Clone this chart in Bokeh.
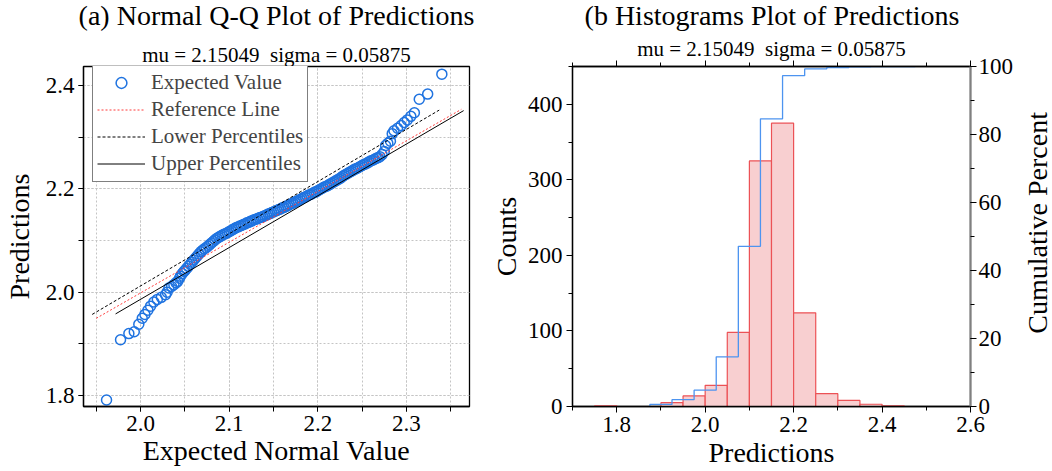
import math
from bokeh.plotting import figure
from bokeh.models import (Range1d, LinearAxis, SingleIntervalTicker, Title, Legend,
                          LegendItem, NumeralTickFormatter, CustomJSTickFormatter)
from bokeh.core.properties import value
from bokeh.layouts import row, column
from bokeh.embed import file_html
from bokeh.resources import INLINE

FONT = "Liberation Serif"

# ---------------- data: Q-Q plot ----------------
qq_tail_low_x = [1.9616, 1.9774, 1.9868, 1.9929, 1.998, 2.0019, 2.0049, 2.0083, 2.0113, 2.015,
                 2.0189, 2.0234, 2.0282, 2.030, 2.032, 2.035, 2.0376, 2.040, 2.042, 2.044,
                 2.045, 2.047, 2.049]
qq_tail_low_y = [1.7915, 1.908, 1.920, 1.9235, 1.938, 1.9495, 1.957, 1.965, 1.973, 1.981,
                 1.986, 1.990, 1.995, 2.000, 2.008, 2.011, 2.0145, 2.018, 2.021, 2.027,
                 2.031, 2.036, 2.040]
qq_mid_x = [2.050, 2.052, 2.054, 2.056, 2.058, 2.060, 2.062, 2.064, 2.066, 2.068,
            2.070, 2.072, 2.074, 2.076, 2.078, 2.080, 2.082, 2.084, 2.086, 2.088,
            2.090, 2.092, 2.094, 2.096, 2.098, 2.100, 2.102, 2.104, 2.106, 2.108,
            2.110, 2.112, 2.114, 2.116, 2.118, 2.120, 2.122, 2.124, 2.126, 2.128,
            2.130, 2.132, 2.134, 2.136, 2.138, 2.140, 2.142, 2.144, 2.146, 2.148,
            2.150, 2.152, 2.154, 2.156, 2.158, 2.160, 2.162, 2.164, 2.166, 2.168,
            2.170, 2.172, 2.174, 2.176, 2.178, 2.180, 2.182, 2.184, 2.186, 2.188,
            2.190, 2.192, 2.194, 2.196, 2.198, 2.200, 2.202, 2.204, 2.206, 2.208,
            2.210, 2.212, 2.214, 2.216, 2.218, 2.220, 2.222, 2.224, 2.226, 2.228,
            2.230, 2.232, 2.234, 2.236, 2.238, 2.240, 2.242, 2.244, 2.246, 2.248,
            2.250, 2.252, 2.254, 2.256, 2.258, 2.260, 2.262, 2.264, 2.266, 2.268, 2.270]
qq_mid_y = [2.042, 2.046, 2.050, 2.054, 2.058, 2.062, 2.066, 2.070, 2.074, 2.078,
            2.081, 2.084, 2.086, 2.089, 2.092, 2.095, 2.098, 2.101, 2.104, 2.106,
            2.108, 2.110, 2.112, 2.113, 2.115, 2.117, 2.119, 2.121, 2.123, 2.125,
            2.126, 2.128, 2.129, 2.131, 2.132, 2.134, 2.135, 2.137, 2.138, 2.140,
            2.141, 2.142, 2.144, 2.145, 2.146, 2.148, 2.149, 2.151, 2.152, 2.154,
            2.155, 2.157, 2.158, 2.160, 2.161, 2.163, 2.164, 2.166, 2.167, 2.169,
            2.171, 2.172, 2.174, 2.176, 2.177, 2.179, 2.181, 2.183, 2.184, 2.186,
            2.188, 2.189, 2.191, 2.193, 2.194, 2.196, 2.198, 2.200, 2.202, 2.204,
            2.205, 2.207, 2.209, 2.211, 2.213, 2.215, 2.217, 2.219, 2.221, 2.224,
            2.226, 2.228, 2.230, 2.232, 2.234, 2.236, 2.238, 2.239, 2.241, 2.243,
            2.245, 2.247, 2.248, 2.250, 2.252, 2.254, 2.255, 2.257, 2.259, 2.260, 2.262]
qq_tail_high_x = [2.2725, 2.275, 2.2765, 2.279, 2.282, 2.284, 2.286, 2.290, 2.294, 2.2975,
                  2.301, 2.305, 2.309, 2.3145, 2.324, 2.340]
qq_tail_high_y = [2.266, 2.272, 2.2835, 2.288, 2.292, 2.3065, 2.312, 2.317, 2.322, 2.328,
                  2.333, 2.340, 2.347, 2.373, 2.383, 2.4215]

ref_line_x = [1.950, 2.362]
ref_line_y = [1.9495, 2.3535]
lower_pct_x = [1.9454, 2.337]
lower_pct_y = [1.957, 2.352]
upper_pct_x = [1.9718, 2.3646]
upper_pct_y = [1.958, 2.351]

# ---------------- data: histogram ----------------
bin_left = [1.75, 1.80, 1.85, 1.90, 1.95, 2.00, 2.05, 2.10, 2.15, 2.20, 2.25, 2.30, 2.35, 2.40]
bin_right = [1.80, 1.85, 1.90, 1.95, 2.00, 2.05, 2.10, 2.15, 2.20, 2.25, 2.30, 2.35, 2.40, 2.45]
counts = [1, 0, 0, 5, 14, 28, 98, 325, 375, 124, 17, 8, 3, 1]
cum_x = [1.875, 1.925, 1.975, 2.025, 2.075, 2.125, 2.175, 2.225, 2.275, 2.325, 2.375, 2.425, 2.475]
cum_pct = [0.1, 0.6, 2.0, 4.8, 14.6, 47.1, 84.6, 97.3, 99.3, 99.7, 99.9, 100.0, 100.0]

subtitle = "mu = 2.15049 \u00a0sigma = 0.05875"
panel_titles = ["(a) Normal Q-Q Plot of Predictions", "(b Histograms Plot of Predictions"]
right_label = "Cumulative Percent"

qq_x = qq_tail_low_x + qq_mid_x + qq_tail_high_x
qq_y = qq_tail_low_y + qq_mid_y + qq_tail_high_y

HEAD_H = 34
BODY_H = 471 - HEAD_H
FRAME_TOP = 66


def style_axis(ax, tick_out=5, minor_out=5):
    ax.axis_line_color = "black"
    ax.axis_line_width = 1.3
    ax.major_tick_line_color = "black"
    ax.minor_tick_line_color = "black"
    ax.major_tick_in = 0
    ax.minor_tick_in = 0
    ax.major_tick_out = tick_out
    ax.minor_tick_out = minor_out
    ax.major_label_text_font = FONT
    ax.major_label_text_font_size = "23px"
    ax.major_label_text_color = "black"
    ax.axis_label_text_font = FONT
    ax.axis_label_text_font_size = "28px"
    ax.axis_label_text_font_style = "normal"
    ax.axis_label_text_color = "black"


def add_subtitle(p):
    p.add_layout(Title(text=subtitle, align="center", text_font=FONT, text_font_size="21px",
                       text_font_style="normal", text_color="black", standoff=0), "above")


def blank_figure(w, h):
    f = figure(width=w, height=h, output_backend="svg", toolbar_location=None, title=None,
               x_range=Range1d(0, w), y_range=Range1d(0, h), x_axis_type=None, y_axis_type=None,
               min_border_left=0, min_border_right=0, min_border_top=0, min_border_bottom=0)
    f.outline_line_color = None
    f.xgrid.visible = False
    f.ygrid.visible = False
    return f


# ---------------- header with the two panel titles ----------------
header = blank_figure(1052, HEAD_H)
header.text(x=[276, 771.5], y=[HEAD_H - 15, HEAD_H - 15], text=panel_titles,
            text_font=value(FONT), text_font_size=value("28px"), text_color="black",
            text_align="center", text_baseline="middle")

# ---------------- left: Q-Q plot ----------------
p1 = figure(width=480, height=BODY_H, output_backend="svg", toolbar_location=None, title=None,
            x_range=Range1d(1.9356, 2.3712), y_range=Range1d(1.779, 2.4363),
            min_border_left=83, min_border_right=11, min_border_top=FRAME_TOP - HEAD_H,
            min_border_bottom=61)
p1.outline_line_color = "black"
p1.outline_line_width = 1.3

xt1 = SingleIntervalTicker(interval=0.1, num_minor_ticks=2)
yt1 = SingleIntervalTicker(interval=0.2, num_minor_ticks=2)
p1.xaxis.ticker = xt1
p1.yaxis.ticker = yt1
p1.xgrid.ticker = xt1
p1.ygrid.ticker = yt1
p1.xaxis.formatter = NumeralTickFormatter(format="0.0")
p1.yaxis.formatter = NumeralTickFormatter(format="0.0")
for g in (p1.xgrid, p1.ygrid):
    g.grid_line_color = "#c4c4c4"
    g.grid_line_dash = "2 2"
    g.minor_grid_line_color = "#c4c4c4"
    g.minor_grid_line_dash = "2 2"
style_axis(p1.xaxis[0])
style_axis(p1.yaxis[0])
p1.xaxis.axis_label = "Expected Normal Value"
p1.yaxis.axis_label = "Predictions"
p1.xaxis.major_label_standoff = 4
p1.xaxis.axis_label_standoff = 1
p1.yaxis.major_label_standoff = 4
p1.yaxis.axis_label_standoff = 8

sc = p1.scatter(qq_x, qq_y, marker="circle", size=10, fill_color=None,
                line_color="#1f73e0", line_width=1.5)
r_ref = p1.line(ref_line_x, ref_line_y, line_color="#ff3b3b", line_dash="2 2", line_width=1)
r_low = p1.line(lower_pct_x, lower_pct_y, line_color="black", line_dash="3 2", line_width=1)
r_up = p1.line(upper_pct_x, upper_pct_y, line_color="black", line_width=1)

legend = Legend(items=[LegendItem(label="Expected Value", renderers=[sc]),
                       LegendItem(label="Reference Line", renderers=[r_ref]),
                       LegendItem(label="Lower Percentiles", renderers=[r_low]),
                       LegendItem(label="Upper Percentiles", renderers=[r_up])],
                location=(9, 224), margin=0, padding=4, spacing=0,
                glyph_width=48, glyph_height=27, label_height=27, label_standoff=6,
                label_text_font=FONT, label_text_font_size="21px",
                border_line_color="black", border_line_width=1,
                background_fill_color="white", background_fill_alpha=1)
p1.add_layout(legend)
add_subtitle(p1)

# ---------------- right: histogram ----------------
p2 = figure(width=536, height=BODY_H, output_backend="svg", toolbar_location=None, title=None,
            x_range=Range1d(1.7, 2.6), y_range=Range1d(0, 450),
            min_border_left=92, min_border_right=45, min_border_top=FRAME_TOP - HEAD_H,
            min_border_bottom=65)
p2.extra_y_ranges = {"cum": Range1d(0, 100)}
p2.outline_line_color = "black"
p2.outline_line_width = 1.3
p2.xgrid.visible = False
p2.ygrid.visible = False

xt2 = SingleIntervalTicker(interval=0.2, num_minor_ticks=2)
p2.xaxis.ticker = xt2
p2.yaxis.ticker = SingleIntervalTicker(interval=100, num_minor_ticks=2)
p2.xaxis.formatter = NumeralTickFormatter(format="0.0")
style_axis(p2.xaxis[0], 6, 4)
style_axis(p2.yaxis[0], 6, 4)
p2.xaxis.axis_label = "Predictions"
p2.yaxis.axis_label = "Counts"
p2.xaxis.major_label_standoff = 4
p2.xaxis.axis_label_standoff = 2
p2.yaxis.major_label_standoff = 4
p2.yaxis.axis_label_standoff = 3

right_ax = LinearAxis(y_range_name="cum", ticker=SingleIntervalTicker(interval=20, num_minor_ticks=2))
style_axis(right_ax, 6, 4)
right_ax.axis_line_color = "#808080"
right_ax.axis_line_width = 2
right_ax.major_label_standoff = 2
p2.add_layout(right_ax, "right")

top_ax = LinearAxis(ticker=SingleIntervalTicker(interval=0.2, num_minor_ticks=2),
                    formatter=CustomJSTickFormatter(code="return ''"))
style_axis(top_ax, 6, 4)
top_ax.major_label_standoff = 0
p2.add_layout(top_ax, "above")

p2.quad(left=bin_left, right=bin_right, bottom=0, top=counts,
        fill_color="#f8cfd0", line_color="#ec5256", line_width=1.2)
p2.step(cum_x, cum_pct, mode="before", y_range_name="cum", line_color="#4d94f0", line_width=1.3)
add_subtitle(p2)

# ---------------- strip with the right-hand axis label ----------------
strip = blank_figure(36, BODY_H)
strip.text(x=[21], y=[BODY_H - (235 - HEAD_H)], text=[right_label], angle=math.pi / 2,
           text_font=value(FONT), text_font_size=value("28px"), text_color="black",
           text_align="center", text_baseline="middle")

layout = column(header, row(p1, p2, strip))
open("out.html", "w").write(file_html(layout, INLINE))
